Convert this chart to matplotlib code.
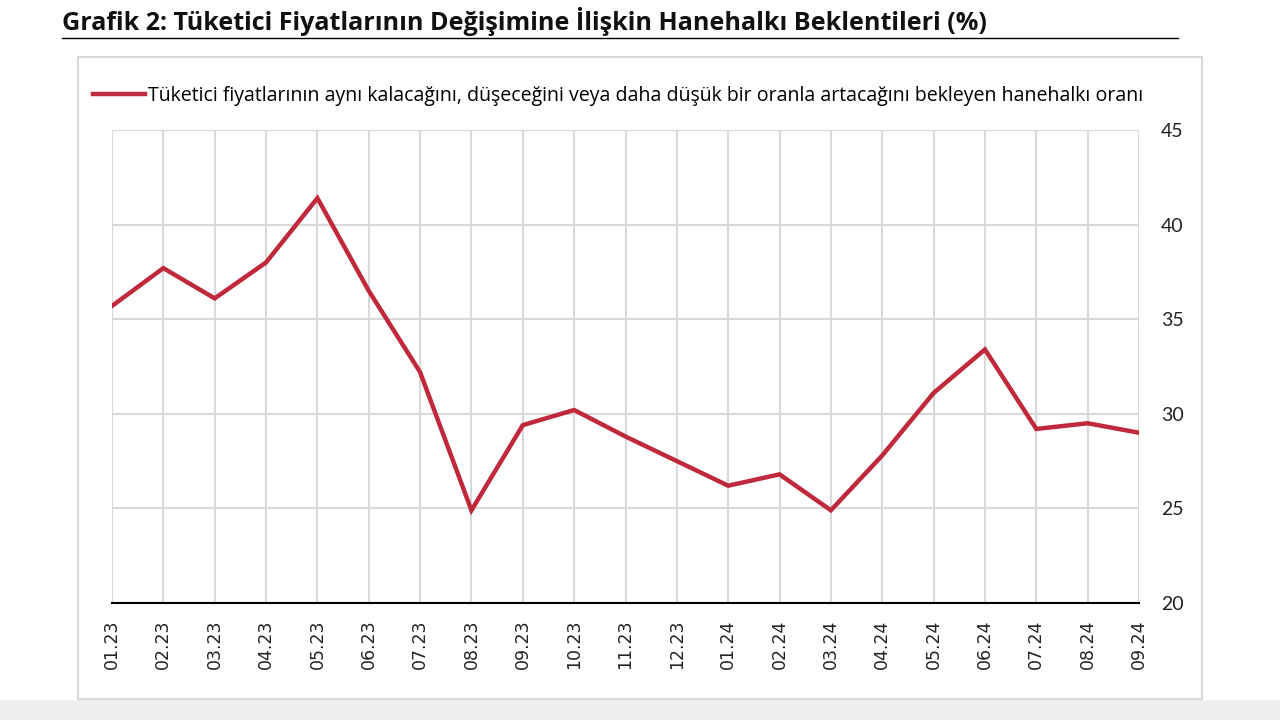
import matplotlib
matplotlib.use("Agg")
import matplotlib.pyplot as plt
from matplotlib.patches import Rectangle
from matplotlib.lines import Line2D

months = ["01.23", "02.23", "03.23", "04.23", "05.23", "06.23", "07.23", "08.23",
          "09.23", "10.23", "11.23", "12.23", "01.24", "02.24", "03.24", "04.24",
          "05.24", "06.24", "07.24", "08.24", "09.24"]
values = [35.7, 37.7, 36.1, 38.0, 41.4, 36.5, 32.2, 24.9, 29.4, 30.2, 28.8, 27.5,
          26.2, 26.8, 24.9, 27.8, 31.1, 33.4, 29.2, 29.5, 29.0]
y_ticks = [20, 25, 30, 35, 40, 45]
title = "Grafik 2: Tüketici Fiyatlarının Değişimine İlişkin Hanehalkı Beklentileri (%)"
series_label = ("Tüketici fiyatlarının aynı kalacağını, düşeceğini veya daha düşük "
                "bir oranla artacağını bekleyen hanehalkı oranı")

W, H = 1280, 720
fig = plt.figure(figsize=(W / 100, H / 100), dpi=100)
fig.patch.set_facecolor("white")

# bottom gray band
fig.add_artist(Rectangle((0, 0), 1, 20 / H, transform=fig.transFigure,
                         facecolor="#efefef", edgecolor="none", zorder=-2))
# outer box
fig.add_artist(Rectangle((78 / W, 1 - 699 / H), (1202 - 78) / W, (699 - 57) / H,
                         transform=fig.transFigure, facecolor="white",
                         edgecolor="#d9d9d9", linewidth=1.5, zorder=-1))
# title
fig.text(62 / W, 1 - 22 / H, title, fontsize=18.1, fontweight="bold",
         family="Open Sans", va="center", ha="left", color="#111111")
fig.add_artist(Line2D([62 / W, 1178 / W], [1 - 38 / H, 1 - 38 / H],
                      transform=fig.transFigure, color="black", linewidth=1))

ax = fig.add_axes([112 / W, 1 - 603 / H, (1139 - 112) / W, (603 - 130) / H])
ax.set_zorder(2)
ax.set_facecolor("none")
x = list(range(len(months)))
line, = ax.plot(x, values, color="#c0283c", linewidth=3.2, solid_joinstyle="miter",
                zorder=3, label=series_label)
ax.set_xlim(0, len(months) - 1)
ax.set_ylim(20, 45)
ax.set_xticks(x)
ax.set_xticklabels(months, rotation=90, family="DejaVu Sans", fontsize=12.5,
                   color="#222222")
ax.set_yticks(y_ticks)
ax.set_yticklabels([str(v) for v in y_ticks], family="Lato", fontsize=14,
                   color="#222222")
ax.yaxis.tick_right()
ax.tick_params(axis="both", length=0)
ax.tick_params(axis="y", pad=16)
ax.tick_params(axis="x", pad=12)
ax.grid(True, color="#d9d9d9", linewidth=1.5, zorder=1)
for s in ["top", "right", "left"]:
    ax.spines[s].set_visible(False)
ax.spines["bottom"].set_color("black")
ax.spines["bottom"].set_linewidth(1.5)
ax.spines["bottom"].set_zorder(4)

fig.legend(handles=[line], labels=[series_label], loc="center left",
           bbox_to_anchor=(93 / W, 1 - 96 / H), frameon=False,
           prop={"family": "Open Sans", "size": 14.05}, handlelength=2.65,
           handletextpad=0.15, borderaxespad=0, borderpad=0)

fig.savefig("out.png", dpi=100)
